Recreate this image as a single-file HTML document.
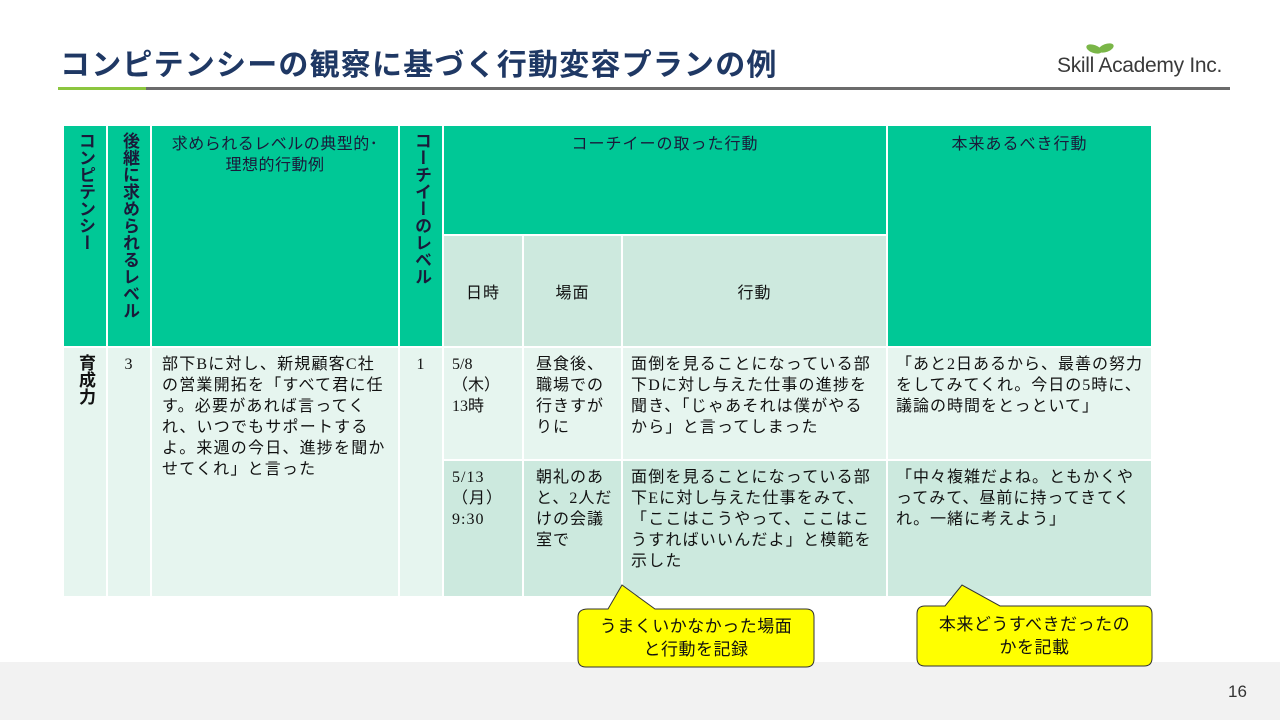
<!DOCTYPE html>
<html><head><meta charset="utf-8"><style>
*{margin:0;padding:0;box-sizing:border-box}
body{width:1280px;height:720px;position:relative;background:#fff;font-family:"Liberation Sans","Noto Sans CJK JP",sans-serif;overflow:hidden}
.c{position:absolute;border:1px solid #fff;font-size:16px;line-height:21px;color:#111;padding:6px 8px;letter-spacing:1px;font-family:"Liberation Serif","Noto Sans CJK JP",serif}
.h{background:#00c896;}
.s{background:#cde9de}
.r1{background:#e6f5ef}
.r2{background:#cce9de}
.v{padding:6px 0;text-align:center}
.v span{writing-mode:vertical-rl;font-weight:bold;color:#1a1a3a;font-size:17px;letter-spacing:0;display:inline-block;line-height:20px;font-family:"Liberation Sans","Noto Sans CJK JP",sans-serif}
.ctr{text-align:center}
.ser{font-family:"Liberation Serif","Noto Serif CJK SC",serif}
</style></head><body>
<div style="position:absolute;left:60px;top:40px;font-size:30px;font-weight:bold;color:#1f3864;letter-spacing:1.2px">コンピテンシーの観察に基づく行動変容プランの例</div>
<div style="position:absolute;left:1057px;top:54px;font-size:21px;color:#3a3a3a;letter-spacing:-0.3px">Skill Academy Inc.</div>
<svg style="position:absolute;left:1085px;top:40px" width="30" height="20"><ellipse cx="9" cy="9" rx="8" ry="4" fill="#7ab648" transform="rotate(20 9 9)"/><ellipse cx="21" cy="8" rx="8" ry="4" fill="#7ab648" transform="rotate(-20 21 8)"/></svg>
<div style="position:absolute;left:58px;top:87px;width:88px;height:3px;background:#8cc63f"></div>
<div style="position:absolute;left:146px;top:87px;width:1084px;height:3px;background:#6b6b6b"></div>

<div class="c h v" style="left:63px;top:125px;width:44px;height:222px"><span>コンピテンシー</span></div>
<div class="c h v" style="left:107px;top:125px;width:44px;height:222px"><span>後継に求められるレベル</span></div>
<div class="c h ctr" style="left:151px;top:125px;width:248px;height:222px;color:#1a1a3a;padding-top:8px;letter-spacing:0.5px">求められるレベルの典型的･<br>理想的行動例</div>
<div class="c h v" style="left:399px;top:125px;width:44px;height:222px"><span>コーチイーのレベル</span></div>
<div class="c h ctr" style="left:443px;top:125px;width:444px;height:110px;color:#1a1a3a;padding-top:8px">コーチイーの取った行動</div>
<div class="c h ctr" style="left:887px;top:125px;width:265px;height:222px;color:#1a1a3a;padding-top:8px">本来あるべき行動</div>
<div class="c s ctr" style="left:443px;top:235px;width:80px;height:112px;padding-top:47px">日時</div>
<div class="c s ctr" style="left:523px;top:235px;width:99px;height:112px;padding-top:47px">場面</div>
<div class="c s ctr" style="left:622px;top:235px;width:265px;height:112px;padding-top:47px">行動</div>

<div class="c r1 v" style="left:63px;top:347px;width:44px;height:250px"><span style="color:#111">育成力</span></div>
<div class="c r1 ctr ser" style="left:107px;top:347px;width:44px;height:250px">3</div>
<div class="c r1" style="left:151px;top:347px;width:248px;height:250px;padding:6px 6px 6px 10px;letter-spacing:1.2px">部下Bに対し、新規顧客C社の営業開拓を「すべて君に任す。必要があれば言ってくれ、いつでもサポートするよ。来週の今日、進捗を聞かせてくれ」と言った</div>
<div class="c r1 ctr ser" style="left:399px;top:347px;width:44px;height:250px">1</div>

<div class="c r1" style="left:443px;top:347px;width:80px;height:113px;letter-spacing:0">5/8（木）<br>13時</div>
<div class="c r1" style="left:523px;top:347px;width:99px;height:113px;padding-left:12px">昼食後、<br>職場での<br>行きすが<br>りに</div>
<div class="c r1" style="left:622px;top:347px;width:265px;height:113px;letter-spacing:1.2px">面倒を見ることになっている部下Dに対し与えた仕事の進捗を聞き、「じゃあそれは僕がやるから」と言ってしまった</div>
<div class="c r1" style="left:887px;top:347px;width:265px;height:113px;letter-spacing:1px">「あと2日あるから、最善の努力をしてみてくれ。今日の5時に、議論の時間をとっといて」</div>

<div class="c r2" style="left:443px;top:460px;width:80px;height:137px">5/13<br>（月）<br>9:30</div>
<div class="c r2" style="left:523px;top:460px;width:99px;height:137px;padding-left:12px">朝礼のあと、2人だけの会議室で</div>
<div class="c r2" style="left:622px;top:460px;width:265px;height:137px;letter-spacing:1.2px">面倒を見ることになっている部下Eに対し与えた仕事をみて、「ここはこうやって、ここはこうすればいいんだよ」と模範を示した</div>
<div class="c r2" style="left:887px;top:460px;width:265px;height:137px;letter-spacing:1px">「中々複雑だよね。ともかくやってみて、昼前に持ってきてくれ。一緒に考えよう」</div>

<div style="position:absolute;left:0;top:662px;width:1280px;height:58px;background:#f2f2f2"></div>
<div style="position:absolute;left:1228px;top:682px;font-size:17px;color:#333">16</div>

<svg style="position:absolute;left:0;top:0" width="1280" height="720">
<path d="M588,609 L608,609 L622,585 L655,609 L806,609 Q814,609 814,617 L814,659 Q814,667 806,667 L586,667 Q578,667 578,659 L578,617 Q578,609 588,609 Z" fill="#ffff00" stroke="#333" stroke-width="1"/>
<path d="M925,606 L945,606 L962,585 L1000,606 L1144,606 Q1152,606 1152,614 L1152,658 Q1152,666 1144,666 L925,666 Q917,666 917,658 L917,614 Q917,606 925,606 Z" fill="#ffff00" stroke="#333" stroke-width="1"/>
</svg>
<div style="position:absolute;left:578px;top:615px;width:236px;text-align:center;font-size:17px;line-height:23px;color:#111;letter-spacing:0.5px">うまくいかなかった場面<br>と行動を記録</div>
<div style="position:absolute;left:917px;top:613px;width:235px;text-align:center;font-size:17px;line-height:23px;color:#111;letter-spacing:0.5px">本来どうすべきだったの<br>かを記載</div>
</body></html>
